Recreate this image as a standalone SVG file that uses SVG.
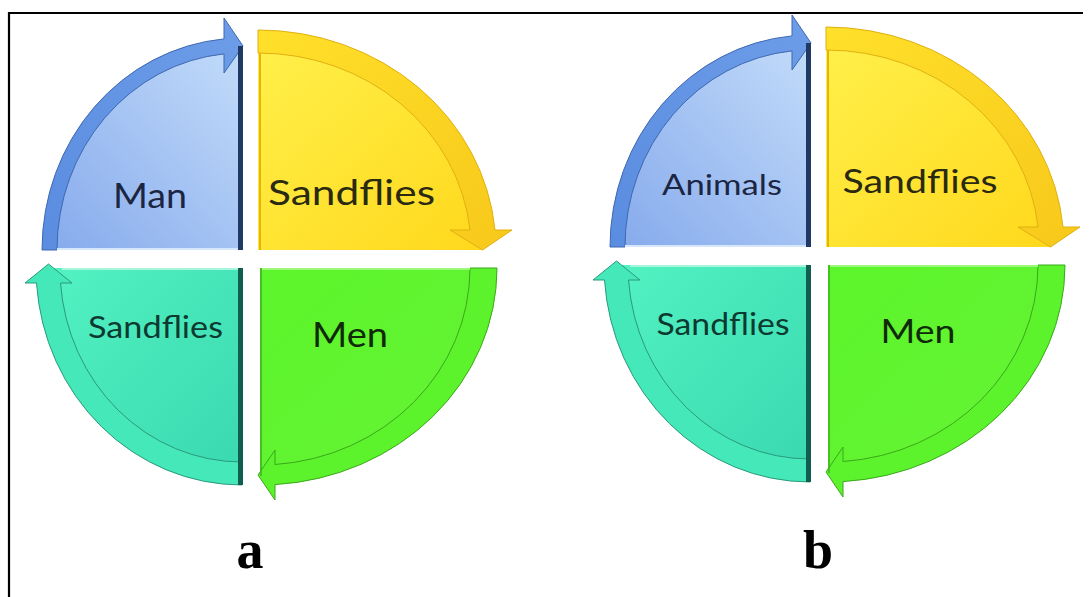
<svg xmlns="http://www.w3.org/2000/svg" width="1091" height="597" viewBox="0 0 1091 597">
  <defs>
    <linearGradient id="gBlueFill" x1="0" y1="1" x2="1" y2="0">
      <stop offset="0" stop-color="#86aaec"/>
      <stop offset="1" stop-color="#c3dcfa"/>
    </linearGradient>
    <linearGradient id="gBlueBand" x1="0" y1="1" x2="1" y2="0">
      <stop offset="0" stop-color="#5a8ce0"/>
      <stop offset="1" stop-color="#6d9de8"/>
    </linearGradient>
    <linearGradient id="gYelFill" x1="0" y1="0" x2="1" y2="1">
      <stop offset="0" stop-color="#fff04a"/>
      <stop offset="1" stop-color="#ffd81c"/>
    </linearGradient>
    <linearGradient id="gYelBand" x1="0" y1="0" x2="1" y2="1">
      <stop offset="0" stop-color="#ffe02a"/>
      <stop offset="1" stop-color="#f7c81a"/>
    </linearGradient>
    <linearGradient id="gTealFill" x1="0" y1="0" x2="1" y2="1">
      <stop offset="0" stop-color="#52f2c2"/>
      <stop offset="1" stop-color="#3ad8b0"/>
    </linearGradient>
    <linearGradient id="gGreenFill" x1="0" y1="0" x2="1" y2="1">
      <stop offset="0" stop-color="#5cf52a"/>
      <stop offset="1" stop-color="#66f236"/>
    </linearGradient>
    <g id="cycle">
      <!-- blue quadrant -->
      <g id="q-blue">
        <path d="M242,250 L50,250 A192,205 0 0 1 242,45 Z" fill="url(#gBlueFill)"/>
        <path d="M42,250 A200,212 0 0 1 224,38.9 L224,18 L243,46 L224,73 L224,53.9 A185,197 0 0 0 57,250 Z" fill="url(#gBlueBand)" stroke="#3f68b0" stroke-width="1"/>
        <rect x="238" y="46" width="5" height="204" fill="#1f3864"/>
        <line x1="57" y1="249" x2="238" y2="249" stroke="#d6e6fb" stroke-width="2"/>
      </g>
      <!-- yellow quadrant -->
      <g id="q-yellow">
        <path d="M258,250 L258,45 A225,205 0 0 1 483,250 Z" fill="url(#gYelFill)"/>
        <path d="M258,30 A238,220 0 0 1 495,230 L512,230 L482.5,250 L450,230 L470,230 A213,197 0 0 0 258,53 Z" fill="url(#gYelBand)" stroke="#e0b010" stroke-width="1"/>
        <line x1="260" y1="53" x2="260" y2="250" stroke="#e2b60c" stroke-width="2"/>
      </g>
      <!-- teal quadrant -->
      <g id="q-teal">
        <path d="M242,268 L50,268 A192,205 0 0 0 242,473 Z" fill="url(#gTealFill)"/>
        <path d="M242,485 A206,217 0 0 1 36.5,283 L25,283 L48.5,264 L72,283 L60.5,283 A182,194 0 0 0 242,462 Z" fill="#45e8b8" stroke="#2a9a7c" stroke-width="1"/>
        <rect x="238" y="268" width="5" height="217" fill="#0f5e50"/>
        <line x1="62" y1="269" x2="238" y2="269" stroke="#a8f5dc" stroke-width="2"/>
      </g>
      <!-- green quadrant -->
      <g id="q-green">
        <path d="M260,268 L490,268 A230,210 0 0 1 260,478 Z" fill="url(#gGreenFill)"/>
        <path d="M497,268 A237,217 0 0 1 275,484.6 L275,500 L258,475 L275,450 L275,464.5 A210,197 0 0 0 470,268 Z" fill="#5cf22c" stroke="#3aa81a" stroke-width="1"/>
        <line x1="261" y1="268" x2="261" y2="476" stroke="#3fb01e" stroke-width="1.5"/>
        <line x1="262" y1="269" x2="470" y2="269" stroke="#9cf77a" stroke-width="2"/>
      </g>
    </g>
    <style>
      .lbl { font-family: "Lato", "Open Sans", "Liberation Sans", sans-serif; text-anchor: middle; }
      .cap { font-family: "Liberation Serif", "Times New Roman", serif; font-weight: bold; font-size: 54px; text-anchor: middle; fill: #000; }
    </style>
  </defs>

  <g id="frame" fill="none" stroke="#000" stroke-width="2.2">
    <polyline points="9,597 9,13 1083,13"/>
  </g>

  <g id="diagram-a">
    <use href="#cycle"/>
    <text class="lbl" x="150" y="208" font-size="35" fill="#1b2642" textLength="74" lengthAdjust="spacingAndGlyphs">Man</text>
    <text class="lbl" x="351.5" y="205" font-size="35" fill="#2a2a12" textLength="167" lengthAdjust="spacingAndGlyphs">Sandflies</text>
    <text class="lbl" x="155.5" y="338" font-size="30" fill="#0d3a30" textLength="135" lengthAdjust="spacingAndGlyphs">Sandflies</text>
    <text class="lbl" x="350" y="347" font-size="34" fill="#0f2a08" textLength="76" lengthAdjust="spacingAndGlyphs">Men</text>
    <text class="cap" x="250" y="568">a</text>
  </g>

  <g id="diagram-b">
    <use href="#cycle" transform="translate(568,-3)"/>
    <text class="lbl" x="722" y="195" font-size="29" fill="#1b2642" textLength="120" lengthAdjust="spacingAndGlyphs">Animals</text>
    <text class="lbl" x="920" y="193" font-size="33" fill="#2a2a12" textLength="155" lengthAdjust="spacingAndGlyphs">Sandflies</text>
    <text class="lbl" x="723" y="335" font-size="30" fill="#0d3a30" textLength="133" lengthAdjust="spacingAndGlyphs">Sandflies</text>
    <text class="lbl" x="918" y="343" font-size="33" fill="#0f2a08" textLength="75" lengthAdjust="spacingAndGlyphs">Men</text>
    <text class="cap" x="818" y="568">b</text>
  </g>
</svg>
